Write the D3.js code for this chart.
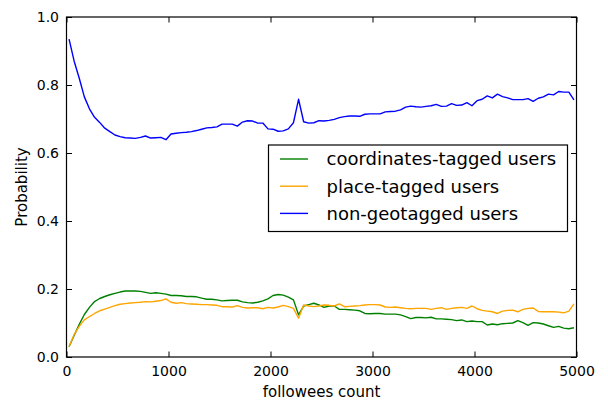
<!DOCTYPE html>
<html>
<head>
<meta charset="utf-8">
<script src="https://cdn.jsdelivr.net/npm/d3@7"></script>
<style>
    body { margin: 0; background: #fff; }
    svg text { font-family: "DejaVu Sans", sans-serif; fill: #000; }
</style>
</head>
<body>
<div id="chart"></div>
<script>
// bins of 50 followees, value read at the bin centre
const followeeBins = d3.range(25, 5000, 50);

const coordinatesTagged = [
    0.030, 0.063, 0.096, 0.125, 0.146, 0.163, 0.172, 0.178, 0.183, 0.187,
    0.191, 0.194, 0.194, 0.194, 0.193, 0.190, 0.187, 0.189, 0.187, 0.185,
    0.181, 0.181, 0.180, 0.178, 0.178, 0.177, 0.173, 0.170, 0.170, 0.168,
    0.165, 0.166, 0.167, 0.167, 0.162, 0.160, 0.159, 0.161, 0.165, 0.171,
    0.181, 0.184, 0.182, 0.176, 0.168, 0.124, 0.150, 0.154, 0.158, 0.153,
    0.146, 0.150, 0.150, 0.140, 0.140, 0.139, 0.138, 0.136, 0.128, 0.127,
    0.128, 0.128, 0.126, 0.126, 0.126, 0.124, 0.119, 0.113, 0.116, 0.116,
    0.115, 0.117, 0.112, 0.112, 0.111, 0.110, 0.107, 0.109, 0.104, 0.106,
    0.104, 0.104, 0.094, 0.097, 0.095, 0.098, 0.099, 0.100, 0.107, 0.101,
    0.093, 0.101, 0.100, 0.097, 0.092, 0.087, 0.090, 0.085, 0.083, 0.086
];

const placeTagged = [
    0.030, 0.066, 0.090, 0.109, 0.119, 0.128, 0.136, 0.141, 0.146, 0.151,
    0.155, 0.157, 0.159, 0.160, 0.161, 0.163, 0.162, 0.164, 0.166, 0.171,
    0.161, 0.158, 0.160, 0.157, 0.156, 0.155, 0.154, 0.154, 0.153, 0.152,
    0.148, 0.148, 0.147, 0.151, 0.146, 0.144, 0.145, 0.145, 0.142, 0.146,
    0.144, 0.147, 0.152, 0.148, 0.143, 0.114, 0.153, 0.150, 0.148, 0.150,
    0.153, 0.152, 0.150, 0.156, 0.148, 0.149, 0.150, 0.151, 0.153, 0.154,
    0.154, 0.153, 0.147, 0.146, 0.147, 0.145, 0.143, 0.142, 0.143, 0.143,
    0.143, 0.140, 0.143, 0.145, 0.140, 0.143, 0.145, 0.146, 0.143, 0.150,
    0.142, 0.137, 0.135, 0.133, 0.128, 0.135, 0.137, 0.138, 0.133, 0.140,
    0.143, 0.144, 0.134, 0.133, 0.133, 0.133, 0.132, 0.130, 0.135, 0.156
];

const nonGeotagged = [
    0.935, 0.870, 0.820, 0.765, 0.730, 0.705, 0.690, 0.673, 0.663, 0.653,
    0.648, 0.645, 0.644, 0.643, 0.646, 0.650, 0.644, 0.645, 0.646, 0.639,
    0.656, 0.658, 0.660, 0.661, 0.663, 0.666, 0.670, 0.674, 0.675, 0.677,
    0.685, 0.685, 0.685, 0.679, 0.691, 0.695, 0.694, 0.688, 0.688, 0.671,
    0.670, 0.664, 0.665, 0.671, 0.689, 0.758, 0.692, 0.688, 0.689, 0.695,
    0.694, 0.696, 0.699, 0.704, 0.707, 0.709, 0.709, 0.708, 0.714, 0.715,
    0.715, 0.715, 0.721, 0.722, 0.723, 0.727, 0.735, 0.738, 0.736, 0.735,
    0.737, 0.739, 0.743, 0.737, 0.738, 0.745, 0.740, 0.741, 0.748, 0.739,
    0.754, 0.758, 0.768, 0.762, 0.773, 0.766, 0.762, 0.757, 0.757, 0.757,
    0.760, 0.752, 0.761, 0.765, 0.773, 0.771, 0.781, 0.779, 0.779, 0.756
];

const seriesNames = ["coordinates-tagged users", "place-tagged users", "non-geotagged users"];
const xTicks = [0, 1000, 2000, 3000, 4000, 5000];
const yTicks = [0.0, 0.2, 0.4, 0.6, 0.8, 1.0];

var myChart = {};

myChart.width = 608;
myChart.height = 401;
myChart.margins = {top: 17, bottom: 44, left: 66.5, right: 31.5};
myChart.colors = ["green", "orange", "blue"];

myChart.appendSvg = function (div) {
    return d3.select(div).append("svg")
        .attr("width", myChart.width)
        .attr("height", myChart.height);
}

myChart.run = function () {
    let svg = myChart.appendSvg("#chart");
    let m = myChart.margins;
    let w = myChart.width - m.left - m.right;
    let h = myChart.height - m.top - m.bottom;

    let xScale = d3.scaleLinear().domain([0, 5000]).range([0, w]);
    let yScale = d3.scaleLinear().domain([0, 1]).range([h, 0]);

    let g = svg.append("g")
        .attr("transform", "translate(" + m.left + "," + m.top + ")");

    // lines
    let series = [coordinatesTagged, placeTagged, nonGeotagged];
    let line = d3.line()
        .x((d, i) => xScale(followeeBins[i]))
        .y(d => yScale(d));

    series.forEach(function (values, k) {
        g.append("path")
            .datum(values)
            .attr("fill", "none")
            .attr("stroke", myChart.colors[k])
            .attr("stroke-width", 1.4)
            .attr("stroke-linejoin", "round")
            .attr("d", line);
    });

    // matplotlib classic: ticks inside, on all four sides
    let tickLen = 5.5;
    let axes = [
        {axis: d3.axisBottom(xScale), pos: [0, h], size: -tickLen, labels: true},
        {axis: d3.axisTop(xScale), pos: [0, 0], size: -tickLen, labels: false},
        {axis: d3.axisLeft(yScale), pos: [0, 0], size: -tickLen, labels: true},
        {axis: d3.axisRight(yScale), pos: [w, 0], size: -tickLen, labels: false}
    ];
    axes.forEach(function (a, i) {
        let isX = i < 2;
        a.axis.tickValues(isX ? xTicks : yTicks)
            .tickSize(a.size)
            .tickPadding(isX ? 9 : 7.5)
            .tickFormat(a.labels ? (isX ? d3.format("d") : d3.format(".1f")) : "");
        let ag = g.append("g")
            .attr("transform", "translate(" + a.pos[0] + "," + a.pos[1] + ")")
            .call(a.axis);
        ag.select(".domain").remove();
        ag.selectAll(".tick line").attr("stroke", "#000").attr("stroke-width", 1);
        ag.selectAll(".tick text")
            .attr("font-size", "14px")
            .attr("fill", "#000");
    });

    // frame
    g.append("rect")
        .attr("width", w)
        .attr("height", h)
        .attr("fill", "none")
        .attr("stroke", "#000")
        .attr("stroke-width", 1.2);

    // axis labels
    svg.append("text")
        .attr("x", m.left + w / 2)
        .attr("y", 397)
        .attr("text-anchor", "middle")
        .attr("font-size", "15px")
        .text("followees count");

    svg.append("text")
        .attr("transform", "translate(27," + (m.top + h / 2) + ") rotate(-90)")
        .attr("text-anchor", "middle")
        .attr("font-size", "15px")
        .text("Probability");

    // legend
    let legend = svg.append("g").attr("transform", "translate(268.5,145)");
    legend.append("rect")
        .attr("width", 299)
        .attr("height", 86.5)
        .attr("fill", "#fff")
        .attr("stroke", "#000")
        .attr("stroke-width", 1.2);

    seriesNames.forEach(function (name, k) {
        let yRow = 14 + k * 27.2;
        legend.append("line")
            .attr("x1", 11.5).attr("x2", 39.5)
            .attr("y1", yRow).attr("y2", yRow)
            .attr("stroke", myChart.colors[k])
            .attr("stroke-width", 1.4);
        legend.append("text")
            .attr("x", 58)
            .attr("y", yRow)
            .attr("dy", "0.35em")
            .attr("font-size", "18px")
            .text(name);
    });
}

window.onload = myChart.run;
</script>
</body>
</html>
